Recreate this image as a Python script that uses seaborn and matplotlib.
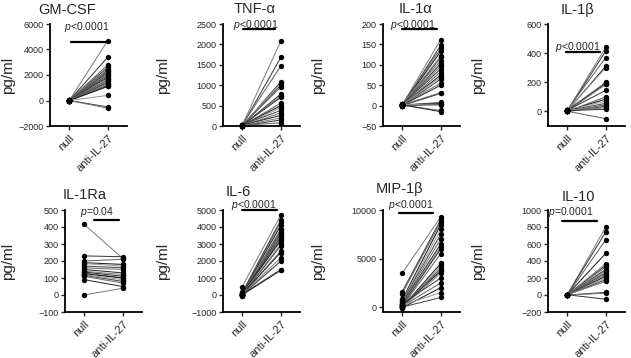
import numpy as np
import pandas as pd
import seaborn as sns
import matplotlib
matplotlib.use("Agg")
import matplotlib.pyplot as plt

# ---- data (pg/ml), one value per donor ----
gmcsf_null = [0, 0, 10, -10, 20, 0, 5, -5, 0, 10, 0, 15, -10, 0, 5, 0, 10, -5, 0, 0, 5, 0, 0]
gmcsf_anti = [4700, 3400, 2800, 2600, 2500, 2400, 2300, 2200, 2100, 2000, 1900, 1800,
              1700, 1600, 1500, 1400, 1300, 1200, 1150, 1100, 400, -500, -600]

tnf_null = [20, 10, 30, 5, 15, 0, 25, 10, 5, 20, 0, 15, 10, 30, 5, 20, 10, 0, 15]
tnf_anti = [2080, 1680, 1470, 1080, 1050, 1000, 950, 780, 740, 700, 560, 500,
            450, 380, 320, 260, 200, 150, 80]

il1a_null = [2, 0, 3, 1, 2, 0, 4, 1, 2, 3, 0, 1, 2, 0, 3, 1, 2, 0, 1, 2, 3, 0, 1, 2]
il1a_anti = [162, 148, 140, 133, 122, 118, 110, 103, 97, 90, 83, 75, 70, 65, 55, 50,
             32, 30, 8, 5, 3, 2, -12, -15]

il1b_null = [5, 0, 10, 3, 8, 0, 12, 5, 2, 7, 0, 4, 10, 6, 3, 0, 8, 5, 2]
il1b_anti = [440, 415, 370, 310, 300, 200, 195, 190, 185, 145, 100, 85, 70, 55,
             45, 35, 25, 15, -50]

il1ra_null = [415, 230, 200, 190, 185, 170, 160, 150, 140, 135, 130, 125, 120, 115, 110, 90, 0]
il1ra_anti = [215, 225, 210, 180, 170, 160, 150, 130, 120, 110, 100, 100, 90, 80, 70, 50, 40]

il6_null = [500, 150, 100, 80, 50, 30, 0, -50, 20, 60, 10, 100, 40, 0, -30, 70, 20, 0, 50, 10]
il6_anti = [4700, 4400, 4300, 4100, 3900, 3800, 3700, 3600, 3500, 3400, 3300, 3200,
            3000, 2900, 2600, 2500, 2200, 2000, 1500, 1450]

mip1b_null = [3500, 1600, 1400, 800, 700, 600, 500, 400, 300, 200, 100, 0, -100,
              50, 250, 150, 0, 350, 100, -50, 200, 0]
mip1b_anti = [9300, 9000, 8800, 8500, 8000, 7500, 7000, 6500, 6200, 6000, 5500, 4500,
              4300, 4000, 3800, 3700, 3500, 3000, 2500, 2000, 1500, 1000]

il10_null = [0, 5, 0, 3, 0, 2, 5, 0, 4, 0, 3, 1, 0, 2, 5, 0, 1, 3]
il10_anti = [800, 740, 650, 490, 370, 350, 330, 300, 280, 260, 240, 220, 200, 180,
             160, 30, 20, -50]

titles = ["GM-CSF", "TNF-\u03b1", "IL-1\u03b1", "IL-1\u03b2",
          "IL-1Ra", "IL-6", "MIP-1\u03b2", "IL-10"]
nulls = [gmcsf_null, tnf_null, il1a_null, il1b_null, il1ra_null, il6_null, mip1b_null, il10_null]
antis = [gmcsf_anti, tnf_anti, il1a_anti, il1b_anti, il1ra_anti, il6_anti, mip1b_anti, il10_anti]
yticks = [[-2000, 0, 2000, 4000, 6000], [0, 500, 1000, 1500, 2000, 2500],
          [-50, 0, 50, 100, 150, 200], [0, 200, 400, 600],
          [-100, 0, 100, 200, 300, 400, 500], [-1000, 0, 1000, 2000, 3000, 4000, 5000],
          [0, 5000, 10000], [-200, 0, 200, 400, 600, 800, 1000]]
ylims = [(-2000, 6000), (0, 2500), (-50, 200), (-100, 600),
         (-100, 500), (-1000, 5000), (-500, 10000), (-200, 1000)]
pvals = ["<0.0001", "<0.0001", "<0.0001", "<0.0001", "=0.04", "<0.0001", "<0.0001", "=0.0001"]
xlabels = ["null", "anti-IL-27"]

# ---- layout (pixels of a 631x358 figure) ----
W, H = 631, 358
lefts = [50, 223, 383, 548, 65, 223, 383, 548]
tops = [24] * 4 + [210] * 4
ax_w, ax_h = 77, 102
ylab_x = [15, 170, 325, 485] * 2
title_xy = [(67, 10), (255, 9), (415, 9), (578, 10),
            (85, 195), (238, 192), (400, 189), (578, 197)]
# significance bar (x0, x1, y) and label (x, y) in data units
bars = [(0.05, 0.95, 4600), (0.03, 0.85, 2370), (0.0, 0.89, 187), (-0.02, 0.86, 405),
        (0.26, 0.9, 440), (0.0, 0.91, 5000), (-0.09, 0.81, 9700), (-0.13, 0.78, 868)]
ptext = [(0.45, 5800), (0.36, 2480), (0.28, 197), (0.27, 445),
         (0.32, 490), (0.3, 5320), (0.22, 10550), (0.09, 976)]

sns.set_style("ticks")
plt.rcParams["font.family"] = ["Liberation Sans", "DejaVu Sans"]
plt.rcParams["mathtext.fontset"] = "custom"
plt.rcParams["mathtext.it"] = "Liberation Sans:italic"
plt.rcParams["mathtext.rm"] = "Liberation Sans"

fig = plt.figure(figsize=(W / 100, H / 100), dpi=100)
fig.patch.set_facecolor("white")

grays = ["#808080", "#3c3c3c", "#666666", "#1e1e1e", "#999999", "#4a4a4a", "#727272", "#2e2e2e"]

for i in range(8):
    ax = fig.add_axes([lefts[i] / W, 1 - (tops[i] + ax_h) / H, ax_w / W, ax_h / H])
    n = len(nulls[i])
    df = pd.DataFrame({
        "donor": list(range(n)) * 2,
        "cond": [0] * n + [1] * n,
        "val": list(nulls[i]) + list(antis[i]),
    })
    pal = [grays[k % len(grays)] for k in range(n)]
    sns.lineplot(data=df, x="cond", y="val", hue="donor", units="donor", estimator=None,
                 palette=pal, linewidth=0.75, legend=False, ax=ax)
    sns.scatterplot(data=df, x="cond", y="val", color="black", s=15, linewidth=0,
                    zorder=3, clip_on=False, ax=ax)

    ax.set_xlim(-0.5, 1.5)
    ax.set_ylim(*ylims[i])
    ax.set_yticks(yticks[i])
    ax.set_xticks([0, 1])
    ax.set_xticklabels(xlabels, rotation=45, ha="right", rotation_mode="anchor", fontsize=8)
    ax.tick_params(axis="y", labelsize=6.5, length=3, width=1, pad=1.5)
    ax.tick_params(axis="x", length=3, width=1, pad=2)
    ax.set_xlabel("")
    ax.set_ylabel("pg/ml", fontsize=11)
    ax.yaxis.set_label_coords((ylab_x[i] - lefts[i]) / ax_w, 0.5)
    sns.despine(ax=ax)
    for s in ["left", "bottom"]:
        ax.spines[s].set_linewidth(1.3)
        ax.spines[s].set_color("black")

    x0, x1, yb = bars[i]
    ax.plot([x0, x1], [yb, yb], color="black", linewidth=1.6, clip_on=False)
    tx, ty = ptext[i]
    ax.text(tx, ty, r"$\it{p}$" + pvals[i], fontsize=7.5, ha="center", va="center",
            clip_on=False)

    fig.text(title_xy[i][0] / W, 1 - title_xy[i][1] / H, titles[i], fontsize=10.5,
             ha="center", va="center")

fig.savefig("out.png", dpi=100, facecolor="white")
